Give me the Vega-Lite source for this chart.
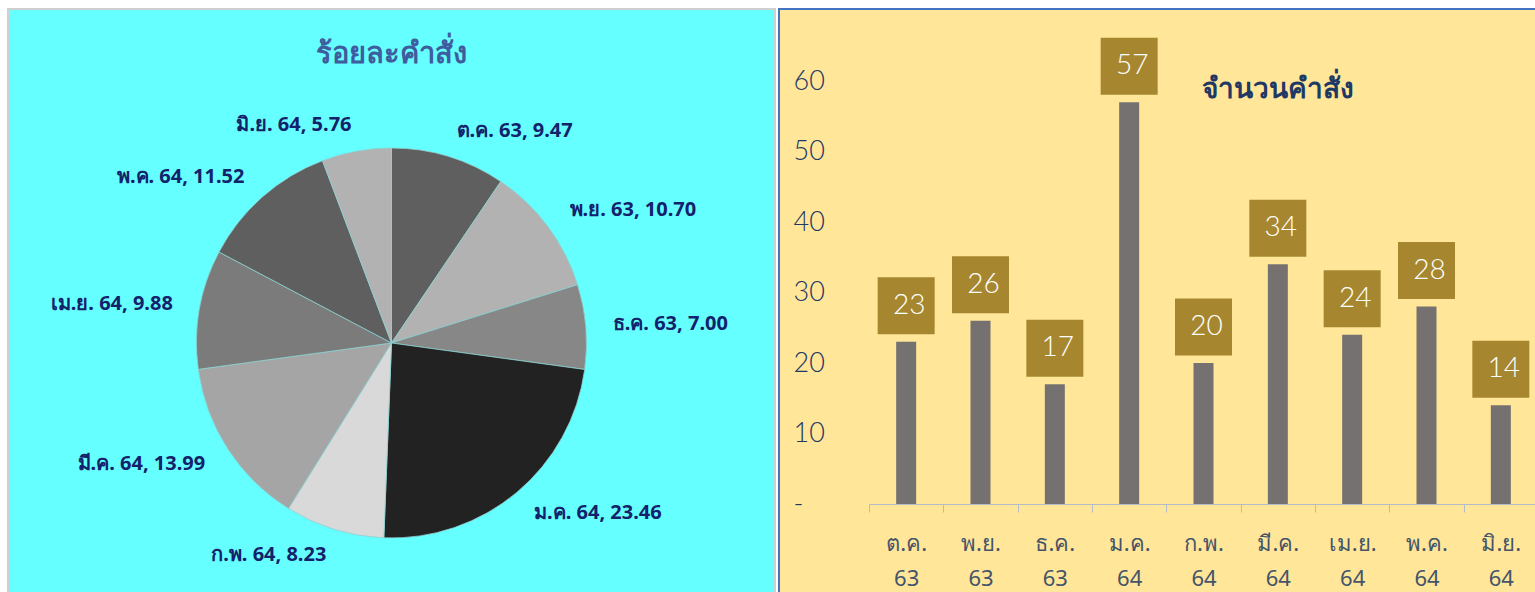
{
  "$schema": "https://vega.github.io/schema/vega-lite/v6.json",
  "background": "white",
  "padding": {"left": 7, "top": 8, "right": 0, "bottom": 0},
  "spacing": 2,
  "config": {"font": "Tahoma, Noto Sans, sans-serif"},
  "data": {
    "values": [
      {"i": 1, "m": "ต.ค. 63", "n": 23, "pct": 9.47, "lab": "ต.ค. 63, 9.47"},
      {"i": 2, "m": "พ.ย. 63", "n": 26, "pct": 10.70, "lab": "พ.ย. 63, 10.70"},
      {"i": 3, "m": "ธ.ค. 63", "n": 17, "pct": 7.00, "lab": "ธ.ค. 63, 7.00"},
      {"i": 4, "m": "ม.ค. 64", "n": 57, "pct": 23.46, "lab": "ม.ค. 64, 23.46"},
      {"i": 5, "m": "ก.พ. 64", "n": 20, "pct": 8.23, "lab": "ก.พ. 64, 8.23"},
      {"i": 6, "m": "มี.ค. 64", "n": 34, "pct": 13.99, "lab": "มี.ค. 64, 13.99"},
      {"i": 7, "m": "เม.ย. 64", "n": 24, "pct": 9.88, "lab": "เม.ย. 64, 9.88"},
      {"i": 8, "m": "พ.ค. 64", "n": 28, "pct": 11.52, "lab": "พ.ค. 64, 11.52"},
      {"i": 9, "m": "มิ.ย. 64", "n": 14, "pct": 5.76, "lab": "มิ.ย. 64, 5.76"}
    ]
  },
  "hconcat": [
    {
      "width": 767,
      "height": 584,
      "view": {"fill": "#66FFFF", "stroke": "#CFCFCF", "strokeWidth": 2},
      "title": {
        "text": "ร้อยละคำสั่ง",
        "anchor": "middle",
        "frame": "group",
        "offset": 0,
        "dy": 60,
        "fontSize": 29,
        "fontWeight": "bold",
        "color": "#3F5C9E"
      },
      "encoding": {
        "theta": {"field": "pct", "type": "quantitative", "stack": true},
        "order": {"field": "i", "type": "quantitative"}
      },
      "layer": [
        {
          "mark": {"type": "arc", "radius": 195, "yOffset": 42, "stroke": "#8FCFCF", "strokeWidth": 0.8},
          "encoding": {
            "color": {
              "field": "m",
              "type": "nominal",
              "scale": {
                "domain": ["ต.ค. 63", "พ.ย. 63", "ธ.ค. 63", "ม.ค. 64", "ก.พ. 64", "มี.ค. 64", "เม.ย. 64", "พ.ค. 64", "มิ.ย. 64"],
                "range": ["#5F5F5F", "#B2B2B2", "#878787", "#222222", "#D9D9D9", "#A5A5A5", "#7B7B7B", "#5F5F5F", "#B2B2B2"]
              },
              "legend": null
            }
          }
        },
        {
          "mark": {"type": "text", "radius": 222, "yOffset": 42, "fontSize": 20, "fontWeight": "bold", "color": "#13226A", "align": "left", "baseline": "middle"},
          "encoding": {
            "text": {"condition": {"test": "datum.i <= 4", "field": "lab"}, "value": ""}
          }
        },
        {
          "mark": {"type": "text", "radius": 222, "yOffset": 42, "fontSize": 20, "fontWeight": "bold", "color": "#13226A", "align": "right", "baseline": "middle"},
          "encoding": {
            "text": {"condition": {"test": "datum.i > 4", "field": "lab"}, "value": ""}
          }
        }
      ]
    },
    {
      "width": 759,
      "height": 584,
      "view": {"fill": "#FFE699", "stroke": "#4472C4", "strokeWidth": 2},
      "title": {
        "text": "จำนวนคำสั่ง",
        "anchor": "middle",
        "frame": "group",
        "offset": 0,
        "dx": 119,
        "dy": 95,
        "fontSize": 28,
        "fontWeight": "bold",
        "color": "#1F3864"
      },
      "encoding": {
        "x": {
          "field": "m",
          "type": "nominal",
          "sort": null,
          "scale": {"range": [90, 759], "paddingInner": 0, "paddingOuter": 0},
          "axis": {
            "title": null,
            "orient": "bottom",
            "offset": -89,
            "tickBand": "extent",
            "tickSize": 8,
            "tickColor": "#B4BCCB",
            "domainColor": "#B4BCCB",
            "labelAngle": 0,
            "labelExpr": "split(datum.label, ' ')",
            "labelFontSize": 22,
            "labelColor": "#44546A",
            "labelLineHeight": 35,
            "labelPadding": 21,
            "labelBaseline": "top"
          }
        },
        "y": {
          "field": "n",
          "type": "quantitative",
          "scale": {"domain": [0, 60], "range": [495, 72], "nice": false},
          "axis": {
            "title": null,
            "orient": "left",
            "values": [0, 10, 20, 30, 40, 50, 60],
            "labelExpr": "datum.value == 0 ? '-' : datum.label",
            "domain": false,
            "ticks": false,
            "grid": false,
            "labelAlign": "left",
            "labelPadding": -14,
            "labelFont": "Lato",
            "labelFontWeight": 300,
            "labelFontSize": 27,
            "labelColor": "#1F3864"
          }
        }
      },
      "layer": [
        {"mark": {"type": "bar", "size": 20, "color": "#767171"}},
        {"mark": {"type": "point", "shape": "square", "filled": true, "size": 3249, "color": "#A6872F", "opacity": 1, "yOffset": -36}},
        {
          "mark": {"type": "text", "yOffset": -36, "dx": 3, "fontSize": 28, "font": "Lato", "fontWeight": 300, "color": "white", "baseline": "middle"},
          "encoding": {"text": {"field": "n", "type": "quantitative"}}
        }
      ]
    }
  ]
}
